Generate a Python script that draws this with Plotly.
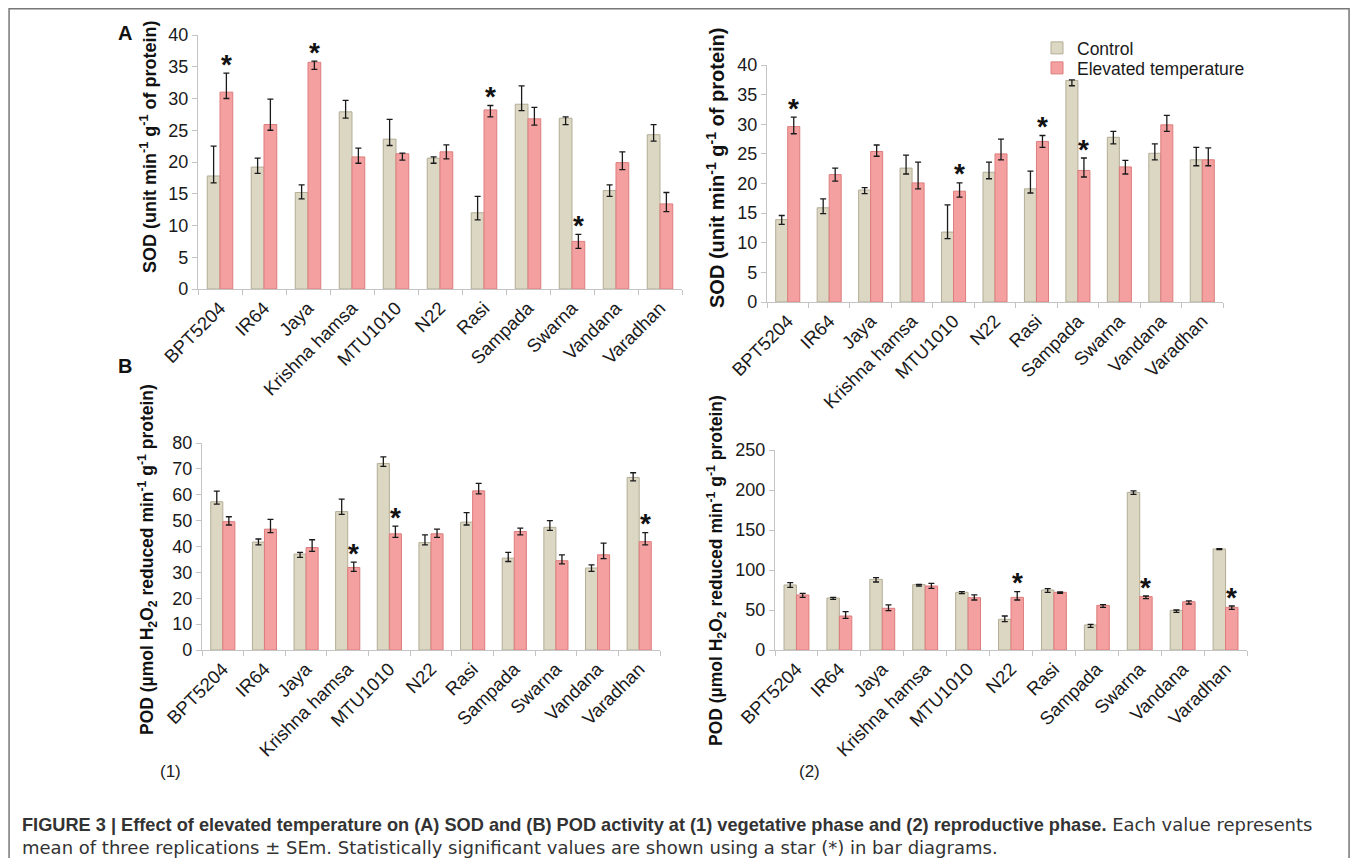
import plotly.graph_objects as go

# page is rendered inside <body> with an 8px margin; the figure is sized to fit the window
W, H = 1342, 850
OX, OY = 8, 8

cultivars = ["BPT5204", "IR64", "Jaya", "Krishna hamsa", "MTU1010", "N22",
             "Rasi", "Sampada", "Swarna", "Vandana", "Varadhan"]

# (A1) SOD - vegetative phase
sod_veg_ctrl = [17.8, 19.2, 15.2, 27.9, 23.6, 20.6, 12.0, 29.1, 26.9, 15.5, 24.3]
sod_veg_ctrl_hi = [22.5, 20.6, 16.4, 29.7, 26.7, 20.8, 14.6, 32.0, 27.1, 16.4, 25.9]
sod_veg_ctrl_lo = [16.7, 18.2, 14.2, 26.9, 22.6, 19.8, 10.9, 28.1, 25.9, 14.6, 23.3]
sod_veg_elev = [31.0, 25.9, 35.7, 20.8, 21.3, 21.6, 28.2, 26.8, 7.5, 19.9, 13.4]
sod_veg_elev_hi = [34.0, 29.9, 35.9, 22.2, 21.4, 22.7, 28.9, 28.6, 8.6, 21.6, 15.2]
sod_veg_elev_lo = [30.0, 25.0, 34.6, 19.8, 20.3, 20.5, 27.1, 25.8, 6.4, 18.8, 12.2]
sod_veg_star = ["BPT5204", "Jaya", "Rasi", "Swarna"]

# (A2) SOD - reproductive phase
sod_rep_ctrl = [13.9, 15.9, 18.9, 22.6, 11.8, 21.9, 19.1, 37.4, 27.8, 25.1, 24.0]
sod_rep_ctrl_hi = [14.6, 17.4, 19.3, 24.8, 16.4, 23.6, 22.1, 37.5, 28.8, 26.7, 26.1]
sod_rep_ctrl_lo = [13.1, 14.9, 18.3, 21.6, 10.7, 20.8, 18.4, 36.5, 26.7, 24.0, 23.0]
sod_rep_elev = [29.6, 21.5, 25.4, 20.1, 18.7, 25.0, 27.1, 22.2, 22.8, 29.9, 24.0]
sod_rep_elev_hi = [31.2, 22.6, 26.5, 23.6, 20.1, 27.5, 28.1, 24.3, 23.9, 31.5, 26.0]
sod_rep_elev_lo = [28.4, 20.4, 24.6, 19.1, 17.7, 24.0, 26.1, 21.1, 21.6, 28.8, 23.0]
sod_rep_star = ["BPT5204", "MTU1010", "Rasi", "Sampada"]

# (B1) POD - vegetative phase
pod_veg_ctrl = [57.3, 41.7, 37.1, 53.5, 72.1, 41.5, 49.4, 35.5, 47.4, 31.7, 66.7]
pod_veg_ctrl_hi = [61.4, 42.9, 37.7, 58.3, 74.6, 44.5, 53.1, 37.7, 50.0, 32.9, 68.5]
pod_veg_ctrl_lo = [56.4, 40.6, 35.8, 52.4, 71.0, 40.6, 48.3, 34.2, 46.2, 30.4, 65.4]
pod_veg_elev = [49.6, 46.7, 39.6, 31.9, 44.9, 44.9, 61.5, 45.8, 34.5, 36.8, 41.9]
pod_veg_elev_hi = [51.5, 50.5, 42.6, 34.0, 47.9, 46.7, 64.4, 47.1, 36.8, 41.3, 45.4]
pod_veg_elev_lo = [48.3, 45.4, 38.1, 30.4, 43.5, 43.5, 60.3, 44.5, 33.3, 35.3, 40.6]
pod_veg_star = ["Krishna hamsa", "MTU1010", "Varadhan"]

# (B2) POD - reproductive phase
pod_rep_ctrl = [81.3, 65.0, 88.3, 81.7, 72.1, 38.3, 75.0, 31.3, 197.0, 49.6, 126.3]
pod_rep_ctrl_hi = [84.2, 65.8, 90.4, 82.1, 72.9, 42.5, 76.7, 32.1, 199.0, 50.0, 126.7]
pod_rep_ctrl_lo = [78.3, 63.3, 85.0, 80.0, 70.4, 35.4, 72.1, 28.3, 194.5, 47.1, 125.4]
pod_rep_elev = [68.8, 42.5, 52.1, 80.0, 65.4, 65.8, 72.1, 55.8, 66.7, 60.4, 53.3]
pod_rep_elev_hi = [70.8, 47.9, 56.3, 83.3, 68.8, 72.9, 72.5, 56.7, 67.5, 61.3, 55.0]
pod_rep_elev_lo = [65.8, 39.6, 49.2, 77.1, 62.5, 62.5, 70.8, 53.3, 64.2, 57.5, 50.8]
pod_rep_star = ["N22", "Swarna", "Varadhan"]

FONT = "Liberation Sans, Arial, Helvetica, sans-serif"
CTRL_FILL, CTRL_LINE = "#dcd7c3", "#b3ad96"
ELEV_FILL, ELEV_LINE = "#f5a0a0", "#dc7c7c"
BARGAP = 0.42


def px_x(x):
    # page pixel -> paper fraction
    return (x - OX) / W


def px_y(y):
    return 1 - (y - OY) / H


panels = [
    ("", (sod_veg_ctrl, sod_veg_ctrl_hi, sod_veg_ctrl_lo, sod_veg_elev, sod_veg_elev_hi, sod_veg_elev_lo, sod_veg_star),
     (198, 682), (35, 289), 40, 5),
    ("2", (sod_rep_ctrl, sod_rep_ctrl_hi, sod_rep_ctrl_lo, sod_rep_elev, sod_rep_elev_hi, sod_rep_elev_lo, sod_rep_star),
     (767, 1223), (65, 302), 40, 5),
    ("3", (pod_veg_ctrl, pod_veg_ctrl_hi, pod_veg_ctrl_lo, pod_veg_elev, pod_veg_elev_hi, pod_veg_elev_lo, pod_veg_star),
     (202, 660), (443, 650), 80, 10),
    ("4", (pod_rep_ctrl, pod_rep_ctrl_hi, pod_rep_ctrl_lo, pod_rep_elev, pod_rep_elev_hi, pod_rep_elev_lo, pod_rep_star),
     (775, 1247), (450, 650), 250, 50),
]

fig = go.Figure()
annotations = []

for i, (sfx, data, xs, ys, ymax, dtick) in enumerate(panels):
    c, chi, clo, e, ehi, elo, stars = data
    xa, ya = "x" + sfx, "y" + sfx
    err_c = dict(type="data", symmetric=False,
                 array=[h - v for h, v in zip(chi, c)],
                 arrayminus=[v - l for v, l in zip(c, clo)],
                 color="#1a1a1a", thickness=1.3, width=3)
    err_e = dict(type="data", symmetric=False,
                 array=[h - v for h, v in zip(ehi, e)],
                 arrayminus=[v - l for v, l in zip(e, elo)],
                 color="#1a1a1a", thickness=1.3, width=3)
    fig.add_trace(go.Bar(x=cultivars, y=c, name="Control", xaxis=xa, yaxis=ya,
                         marker=dict(color=CTRL_FILL, line=dict(color=CTRL_LINE, width=1)),
                         error_y=err_c, legend="legend", showlegend=(i == 1)))
    fig.add_trace(go.Bar(x=cultivars, y=e, name="Elevated temperature", xaxis=xa, yaxis=ya,
                         marker=dict(color=ELEV_FILL, line=dict(color=ELEV_LINE, width=1)),
                         error_y=err_e, legend="legend2", showlegend=(i == 1)))
    line_common = dict(showline=True, linecolor="#c4c4c4", linewidth=1.2,
                       ticks="outside", ticklen=5, tickcolor="#c4c4c4",
                       showgrid=False, zeroline=False)
    fig.update_layout(**{
        "xaxis" + sfx: dict(domain=[px_x(xs[0]), px_x(xs[1])], anchor=ya, type="category",
                            tickangle=-45, tickson="boundaries",
                            tickfont=dict(family=FONT, size=18.5, color="#1a1a1a"), **line_common),
        "yaxis" + sfx: dict(domain=[px_y(ys[1]), px_y(ys[0])], anchor=xa, range=[0, ymax],
                            dtick=dtick, tickfont=dict(family=FONT, size=18, color="#1a1a1a"),
                            **line_common),
    })
    off = (1 - BARGAP) / 4
    for name in stars:
        k = cultivars.index(name)
        annotations.append(dict(x=k + off, y=ehi[k], xref=xa, yref=ya,
                                text="<b>*</b>", showarrow=False, yanchor="middle",
                                yshift=9, font=dict(family=FONT, size=28, color="#111")))

sod_title = "<b>SOD (unit min<sup>-1</sup> g<sup>-1</sup> of protein)</b>"
pod_title = "<b>POD (µmol H<sub>2</sub>O<sub>2</sub> reduced min<sup>-1</sup> g<sup>-1</sup> protein)</b>"
for txt, x, y, size in [(sod_title, 148, 147, 18), (sod_title, 715, 168, 20),
                        (pod_title, 147, 560, 17.5), (pod_title, 716, 571, 17.5)]:
    annotations.append(dict(x=px_x(x), y=px_y(y), xref="paper", yref="paper", text=txt,
                            textangle=-90, showarrow=False, xanchor="center", yanchor="middle",
                            font=dict(family=FONT, size=size, color="#111")))

for txt, x, y, size in [("<b>A</b>", 125, 33, 20), ("<b>B</b>", 125, 366, 20)]:
    annotations.append(dict(x=px_x(x), y=px_y(y), xref="paper", yref="paper", text=txt,
                            showarrow=False, xanchor="center", yanchor="middle",
                            font=dict(family=FONT, size=size, color="#111")))
for txt, x, y in [("(1)", 170, 771), ("(2)", 810, 771)]:
    annotations.append(dict(x=px_x(x), y=px_y(y), xref="paper", yref="paper", text=txt,
                            showarrow=False, xanchor="center", yanchor="middle",
                            font=dict(family=FONT, size=17, color="#222")))

REG = "font-family:DejaVu Sans;font-size:18px"
cap1 = ("<b>FIGURE 3 | Effect of elevated temperature on (A) SOD and (B) POD activity at "
        "(1) vegetative phase and (2) reproductive phase.</b>"
        "<span style='" + REG + "'> Each value represents</span>")
cap2 = ("<span style='" + REG + "'>mean of three replications ± SEm. Statistically significant "
        "values are shown using a star (*) in bar diagrams.</span>")
for txt, y in [(cap1, 824), (cap2, 847)]:
    annotations.append(dict(x=px_x(20), y=px_y(y), xref="paper", yref="paper", text=txt,
                            showarrow=False, xanchor="left", yanchor="middle",
                            font=dict(family=FONT, size=18.2, color="#333")))

legend_common = dict(xanchor="left", yanchor="top", bgcolor="rgba(0,0,0,0)",
                     tracegroupgap=0, itemwidth=30,
                     font=dict(family=FONT, size=17.5, color="#1a1a1a"))
fig.update_layout(
    width=W, height=H, margin=dict(l=0, r=0, t=0, b=0, autoexpand=False),
    paper_bgcolor="white", plot_bgcolor="white",
    barmode="group", bargap=BARGAP, bargroupgap=0,
    annotations=annotations,
    showlegend=True,
    legend=dict(x=px_x(1037), y=px_y(30), **legend_common),
    legend2=dict(x=px_x(1037), y=px_y(50), **legend_common),
    shapes=[dict(type="rect", xref="paper", yref="paper",
                 x0=0.0008, x1=0.9993, y0=-0.05, y1=0.9992,
                 line=dict(color="#777", width=1.5))],
)

fig.write_html("out.html")
